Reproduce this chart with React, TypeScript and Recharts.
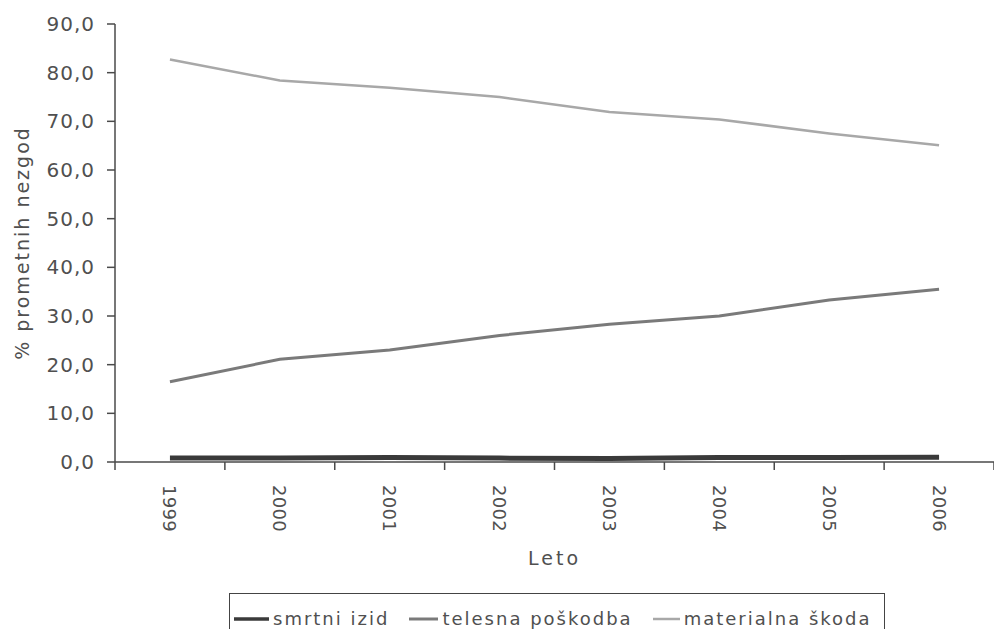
import React from 'react';
import { LineChart, Line, XAxis, YAxis } from 'recharts';

const YEARS = ['1999', '2000', '2001', '2002', '2003', '2004', '2005', '2006'];
const SMRTNI_IZID = [0.8, 0.8, 0.9, 0.8, 0.7, 0.9, 0.9, 1.0];
const TELESNA_POSKODBA = [16.5, 21.1, 23.0, 26.0, 28.3, 30.0, 33.3, 35.5];
const MATERIALNA_SKODA = [82.7, 78.4, 76.9, 75.0, 71.9, 70.4, 67.5, 65.1];
const Y_TICKS = [0, 10, 20, 30, 40, 50, 60, 70, 80, 90];

const SERIES = [
  { key: 'smrtni', name: 'smrtni izid', color: '#3a3a3a', width: 5, sampleW: 35 },
  { key: 'telesna', name: 'telesna poškodba', color: '#7a7a7a', width: 3, sampleW: 29 },
  { key: 'materialna', name: 'materialna škoda', color: '#a8a8a8', width: 2.5, sampleW: 27 },
];

const data = YEARS.map((y, i) => ({
  year: y,
  smrtni: SMRTNI_IZID[i],
  telesna: TELESNA_POSKODBA[i],
  materialna: MATERIALNA_SKODA[i],
}));

const W = 994;
const H = 629;
const Y_AXIS_W = 115;
const TOP = 24;
const X_AXIS_H = 167;
const HALF_BAND = (W - Y_AXIS_W) / YEARS.length / 2;
const FONT = '"DejaVu Sans", Verdana, sans-serif';
const TEXT_COLOR = '#505050';
const AXIS_COLOR = '#4a4a4a';

const XTick = (props: any) => {
  const { x, y, payload, index } = props;
  const axisY = y - 8;
  const isLast = index === YEARS.length - 1;
  return (
    <g>
      <line x1={x - HALF_BAND} y1={axisY} x2={x - HALF_BAND} y2={axisY + 8} stroke={AXIS_COLOR} strokeWidth={1.5} />
      {isLast && (
        <line x1={x + HALF_BAND} y1={axisY} x2={x + HALF_BAND} y2={axisY + 8} stroke={AXIS_COLOR} strokeWidth={1.5} />
      )}
      <text
        x={x}
        y={y + 15}
        transform={`rotate(90, ${x}, ${y + 15})`}
        textAnchor="start"
        dominantBaseline="central"
        fontFamily={FONT}
        fontSize={18}
        letterSpacing={0.3}
        fill={TEXT_COLOR}
      >
        {payload.value}
      </text>
    </g>
  );
};

const fmt = (v: number) => v.toFixed(1).replace('.', ',');

export default function App() {
  return (
    <div style={{ position: 'absolute', left: 0, top: 0, width: W, height: H, background: '#fff', overflow: 'hidden' }}>
      <LineChart width={W} height={H} data={data} margin={{ top: TOP, right: 0, left: 0, bottom: 0 }}>
        <XAxis
          dataKey="year"
          height={X_AXIS_H}
          padding={{ left: HALF_BAND, right: HALF_BAND }}
          axisLine={{ stroke: AXIS_COLOR, strokeWidth: 1.5 }}
          tickLine={false}
          tickSize={8}
          tickMargin={0}
          interval={0}
          tick={<XTick />}
          label={{
            value: 'Leto',
            position: 'insideBottom',
            offset: 64,
            fill: TEXT_COLOR,
            fontSize: 19,
            fontFamily: FONT,
            letterSpacing: 3,
          }}
        />
        <YAxis
          width={Y_AXIS_W}
          domain={[0, 90]}
          ticks={Y_TICKS}
          interval={0}
          tickFormatter={fmt}
          axisLine={{ stroke: AXIS_COLOR, strokeWidth: 1.5 }}
          tickLine={{ stroke: AXIS_COLOR, strokeWidth: 1.5 }}
          tickSize={8}
          tick={{ fill: TEXT_COLOR, fontSize: 20, fontFamily: FONT, letterSpacing: 1, dx: -10 }}
          label={{
            value: '% prometnih nezgod',
            angle: -90,
            position: 'insideLeft',
            offset: 22,
            fill: TEXT_COLOR,
            fontSize: 19,
            fontFamily: FONT,
            letterSpacing: 2,
            style: { textAnchor: 'middle' },
          }}
        />
        {SERIES.map((s) => (
          <Line
            key={s.key}
            type="linear"
            dataKey={s.key}
            name={s.name}
            stroke={s.color}
            strokeWidth={s.width}
            dot={false}
            activeDot={false}
            isAnimationActive={false}
          />
        ))}
      </LineChart>
      <div
        style={{
          position: 'absolute',
          left: 229,
          top: 593,
          width: 656,
          height: 60,
          border: '1.5px solid #444',
          boxSizing: 'border-box',
          display: 'flex',
          alignItems: 'flex-start',
          paddingLeft: 4,
          paddingTop: 14,
          fontFamily: FONT,
          fontSize: 18,
          letterSpacing: 2,
          color: TEXT_COLOR,
          whiteSpace: 'nowrap',
        }}
      >
        {SERIES.map((s) => (
          <div key={s.key} style={{ display: 'flex', alignItems: 'center', marginRight: 20 }}>
            <svg width={s.sampleW} height={20} style={{ marginRight: 4 }}>
              <line x1={0} y1={10} x2={s.sampleW} y2={10} stroke={s.color} strokeWidth={Math.min(s.width, 3.5)} />
            </svg>
            <span>{s.name}</span>
          </div>
        ))}
      </div>
    </div>
  );
}
